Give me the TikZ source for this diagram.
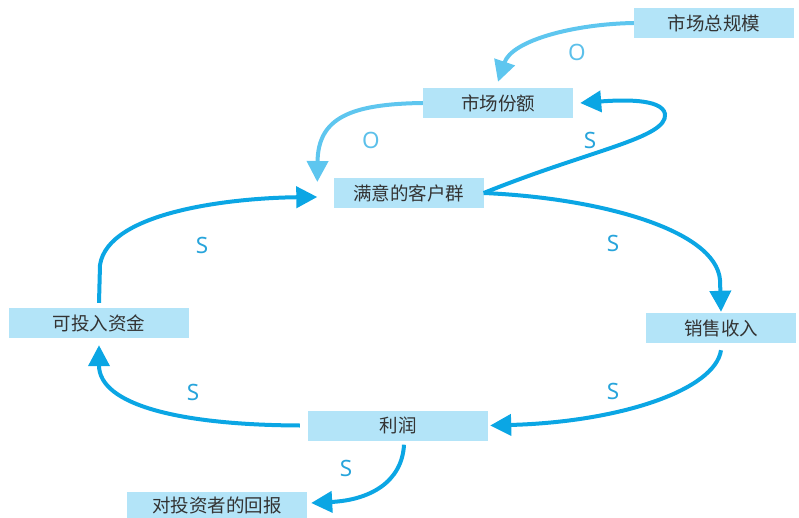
\documentclass[tikz,border=0pt]{standalone}
\usepackage{fontspec}
\setmainfont{Noto Sans}
\newfontfamily\cjk{Noto Sans CJK SC}
\usetikzlibrary{arrows.meta}
\definecolor{boxfill}{HTML}{B3E4F8}
\definecolor{mainblue}{HTML}{0BA6E4}
\definecolor{lightblue}{HTML}{5EC6EF}
\definecolor{labS}{HTML}{27A4DB}
\definecolor{labO}{HTML}{5CC0EA}
\definecolor{txt}{HTML}{333333}
\tikzset{
  box/.style={fill=boxfill, draw=none, minimum height=30pt, inner sep=0pt,
    font=\cjk\fontsize{18.5}{18.5}\selectfont, text=txt},
  mainarr/.style={draw=mainblue, line width=4pt, -{Triangle[length=21pt,width=21pt]}, fill=none},
  lightarr/.style={draw=lightblue, line width=4pt, -{Triangle[length=21pt,width=21pt]}, fill=none},
  lblS/.style={text=labS, font=\fontsize{22.5}{22.5}\selectfont},
  lblO/.style={text=labO, font=\fontsize{22.5}{22.5}\selectfont},
}
\begin{document}
\begin{tikzpicture}[x=1pt,y=-1pt]
\useasboundingbox (0,0) rectangle (799,518);
% boxes
\node[box, minimum width=160pt] (tsm) at (714,23) {市场总规模};
\node[box, minimum width=150pt] (share) at (498,103) {市场份额};
\node[box, minimum width=150pt] (sat) at (408.5,193) {满意的客户群};
\node[box, minimum width=180pt] (fund) at (99,323) {可投入资金};
\node[box, minimum width=150pt] (sales) at (721,328) {销售收入};
\node[box, minimum width=180pt] (profit) at (398,425.5) {利润};
\node[box, minimum width=180pt, minimum height=26pt] (ret) at (217,505) {对投资者的回报};
% connectors
\draw[lightarr] (tsm.west) .. controls (575,24) and (512,40) .. ([yshift=6pt]share.north);
\draw[lightarr] (share.west) .. controls (350,104) and (318,118) .. ([xshift=-16pt,yshift=11pt]sat.west);
\draw[mainarr] (sat.east) .. controls (590,150) and (668,138) .. (665,114)
   .. controls (662,98) and (620,100) .. ([xshift=7pt]share.east);
\draw[mainarr] (sat.east) .. controls (600,198) and (716,230) .. (720,280) -- ([yshift=1pt]sales.north);
\draw[mainarr] ([yshift=-7pt]sales.south) .. controls (715,390) and (620,422) .. ([xshift=2pt]profit.east);
\draw[mainarr] ([xshift=-8pt]profit.west) .. controls (180,425) and (99,405) .. ([yshift=-7pt]fund.south);
\draw[mainarr] ([yshift=5pt]fund.north) -- (100,265) .. controls (108,212) and (230,198) .. ([xshift=-16pt,yshift=-4pt]sat.west);
\draw[mainarr] ([xshift=6pt,yshift=-4pt]profit.south) .. controls (402,482) and (370,500) .. ([xshift=4pt,yshift=2pt]ret.east);
% labels
\node[lblO] (o1) at (577,52) {O};
\node[lblO] (o2) at (371,140) {O};
\node[lblS] (s1) at (590,140) {S};
\node[lblS] (s2) at (613,243) {S};
\node[lblS] (s3) at (613,391) {S};
\node[lblS] (s4) at (193,392) {S};
\node[lblS] (s5) at (202,245) {S};
\node[lblS] (s6) at (346,468) {S};
\end{tikzpicture}
\end{document}
